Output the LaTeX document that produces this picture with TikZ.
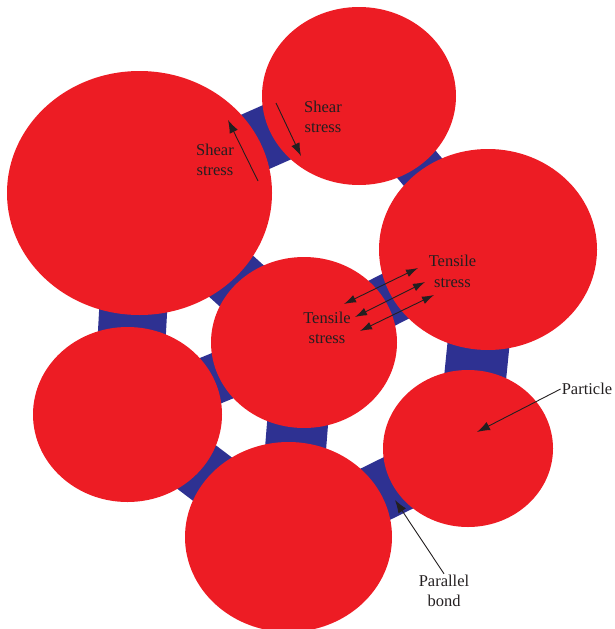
\documentclass[tikz,border=0pt]{standalone}
\usepackage{fontspec}
\setmainfont{Liberation Serif}
\usepackage{tikz}
\usetikzlibrary{shapes.geometric,arrows.meta,backgrounds}

\definecolor{ballred}{HTML}{ED1C24}
\definecolor{bondblue}{HTML}{2E3192}
\definecolor{inkblack}{HTML}{231F20}

\tikzset{
  particle/.style={ellipse, fill=ballred, inner sep=0pt},
  bond/.style={draw=bondblue, line width=#1},
  bond/.default=60pt,
  lbl/.style={align=center, text=inkblack, inner sep=1pt, font=\fontsize{16.5}{20.5}\selectfont},
  arr/.style={draw=inkblack, line width=0.9pt, -{Latex[length=13pt,width=9pt]}},
  darr/.style={draw=inkblack, line width=0.9pt, {Latex[length=12pt,width=8pt]}-{Latex[length=12pt,width=8pt]}}
}

\begin{document}
\begin{tikzpicture}[x=1pt,y=-1pt]
\useasboundingbox (0,0) rectangle (614,629);

\node[particle, minimum width=265pt, minimum height=244pt] (ptl) at (139.5,193) {};
\node[particle, minimum width=194pt, minimum height=178pt] (ptop) at (359,96) {};
\node[particle, minimum width=218pt, minimum height=201pt] (pright) at (488,249.5) {};
\node[particle, minimum width=186pt, minimum height=171pt] (pmid) at (304,342.5) {};
\node[particle, minimum width=189pt, minimum height=175pt] (pleft) at (127.5,414.5) {};
\node[particle, minimum width=170pt, minimum height=157pt] (pbr) at (468,448.5) {};
\node[particle, minimum width=207pt, minimum height=190pt] (pbot) at (288.5,537) {};

\begin{scope}[on background layer]
\draw[bond=61pt] (ptl.center) -- (ptop.center);
\draw[bond=47pt] (ptop.center) -- (pright.center);
\draw[bond=60pt] (ptl.center) -- (pmid.center);
\draw[bond=52pt] (pmid.center) -- (pright.center);
\draw[bond=68pt] (ptl.center) -- (pleft.center);
\draw[bond=50pt] (pleft.center) -- (pmid.center);
\draw[bond=62pt] (pright.center) -- (pbr.center);
\draw[bond=61pt] (pmid.center) -- (pbot.center);
\draw[bond=58pt] (pleft.center) -- (pbot.center);
\draw[bond=59pt] (pbot.center) -- (pbr.center);
\end{scope}

\node[lbl] (shl) at (215,160) {Shear\\stress};
\node[lbl] (shr) at (323,117) {Shear\\stress};
\node[lbl] (tsr) at (452.5,271.5) {Tensile\\stress};
\node[lbl] (tsl) at (327,328) {Tensile\\stress};
\node[lbl] (plabel) at (587,389) {Particle};
\node[lbl] (blabel) at (444,591) {Parallel\\bond};

\coordinate (s1a) at (258,181);
\coordinate (s1b) at (228,120);
\coordinate (s2a) at (276,103);
\coordinate (s2b) at (301,156);
\coordinate (t1a) at (344,304);
\coordinate (t1b) at (418,268);
\coordinate (t2a) at (355,317);
\coordinate (t2b) at (425,282);
\coordinate (t3a) at (360,331);
\coordinate (t3b) at (434,295);
\coordinate (ptip) at (477,432);
\coordinate (btip) at (395,500);

\draw[arr] (s1a) -- (s1b);
\draw[arr] (s2a) -- (s2b);
\draw[darr] (t1a) -- (t1b);
\draw[darr] (t2a) -- (t2b);
\draw[darr] (t3a) -- (t3b);
\draw[arr] (plabel.west) -- (ptip);
\draw[arr] (blabel.north) -- (btip);

\end{tikzpicture}
\end{document}
